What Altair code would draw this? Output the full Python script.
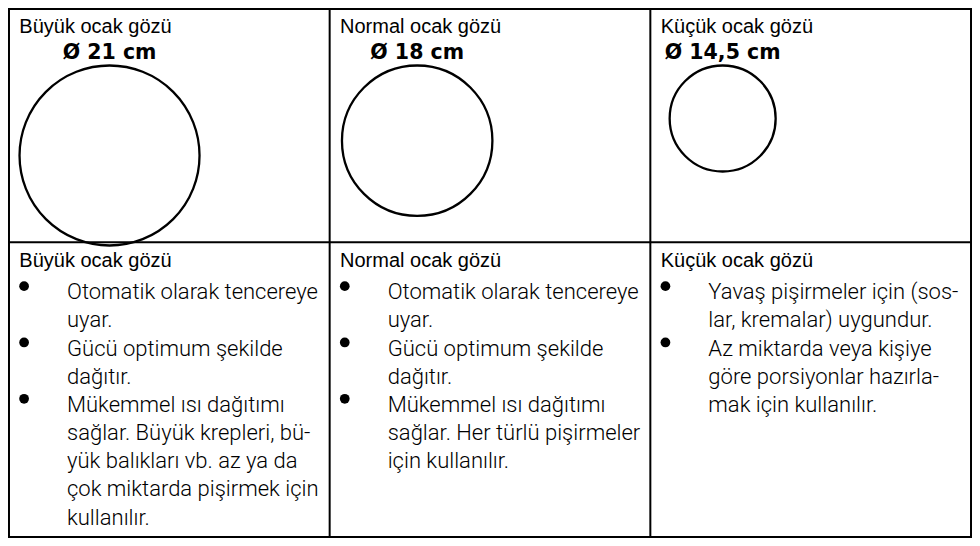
import altair as alt
import pandas as pd

# ---------------- data ----------------
burners = ["Büyük ocak gözü", "Normal ocak gözü", "Küçük ocak gözü"]
diameters_cm = [21, 18, 14.5]
diameter_labels = ["Ø 21 cm", "Ø 18 cm", "Ø 14,5 cm"]

bullets_buyuk = [
    ["Otomatik olarak tencereye", "uyar."],
    ["Gücü optimum şekilde", "dağıtır."],
    ["Mükemmel ısı dağıtımı", "sağlar. Büyük krepleri, bü-",
     "yük balıkları vb. az ya da", "çok miktarda pişirmek için", "kullanılır."],
]
bullets_normal = [
    ["Otomatik olarak tencereye", "uyar."],
    ["Gücü optimum şekilde", "dağıtır."],
    ["Mükemmel ısı dağıtımı", "sağlar. Her türlü pişirmeler", "için kullanılır."],
]
bullets_kucuk = [
    ["Yavaş pişirmeler için (sos-", "lar, kremalar) uygundur."],
    ["Az miktarda veya kişiye", "göre porsiyonlar hazırla-", "mak için kullanılır."],
]
bullet_lists = [bullets_buyuk, bullets_normal, bullets_kucuk]

# ---------------- layout (table units) ----------------
W, H = 964, 530
X0, X1, Y0, Y1 = 2, 977, 2, 544
ROW_SPLIT = 241.5
COL_W = (X1 - X0) / 3
PAD_X = 10.5
HEAD_BASE = 25
DIAM_BASE = 51
CIRCLE_TOP = 60
BODY_HEAD_BASE = 25.5
FIRST_LINE = 58.5
LINE_H = 28.9
BULLET_X = 15.3
BULLET_RISE = 13.5
TEXT_X = 58.8
D_SMALL, D_LARGE = 106, 180  # drawn diameters of smallest / largest burner
SCALE_Y = H / (Y1 - Y0 + 2)

xs = alt.Scale(domain=[X0 - 1, X1 + 1], nice=False, zero=False)
ys = alt.Scale(domain=[Y0 - 1, Y1 + 1], nice=False, zero=False, reverse=True)

def col_left(i):
    return X0 + i * COL_W

# grid lines
segs = []
for yv in [Y0, ROW_SPLIT, Y1]:
    segs.append(dict(x=X0, x2=X1, y=yv, y2=yv))
for i in range(4):
    xv = col_left(i)
    segs.append(dict(x=xv, x2=xv, y=Y0, y2=Y1))
grid_df = pd.DataFrame(segs)

# top cells
d_min, d_max = min(diameters_cm), max(diameters_cm)
top_rows = []
for i, (name, cm, lab) in enumerate(zip(burners, diameters_cm, diameter_labels)):
    frac = (cm - d_min) / (d_max - d_min)
    area = D_SMALL ** 2 + frac * (D_LARGE ** 2 - D_SMALL ** 2)
    r_units = (area ** 0.5) / 2 / SCALE_Y
    cx = col_left(i) + 9.5 + 4.4 * cm
    top_rows.append(dict(name=name, cm=cm, label=lab,
                         hx=col_left(i) + PAD_X, hy=Y0 + HEAD_BASE,
                         cx=cx, cy=CIRCLE_TOP + r_units, ly=Y0 + DIAM_BASE))
top_df = pd.DataFrame(top_rows)

# bottom cells
line_rows, dot_rows, bhead_rows = [], [], []
for i, (name, blist) in enumerate(zip(burners, bullet_lists)):
    bhead_rows.append(dict(name=name, x=col_left(i) + PAD_X, y=ROW_SPLIT + BODY_HEAD_BASE))
    k = 0
    for item in blist:
        for j, txt in enumerate(item):
            yb = ROW_SPLIT + FIRST_LINE + k * LINE_H
            line_rows.append(dict(text=txt, x=col_left(i) + TEXT_X, y=yb))
            if j == 0:
                dot_rows.append(dict(x=col_left(i) + BULLET_X, y=yb - BULLET_RISE))
            k += 1
lines_df = pd.DataFrame(line_rows)
dots_df = pd.DataFrame(dot_rows)
bhead_df = pd.DataFrame(bhead_rows)

# ---------------- chart ----------------
grid = alt.Chart(grid_df).mark_rule(color="black", strokeWidth=2, strokeCap="square").encode(
    x=alt.X("x:Q", scale=xs, axis=None), x2="x2:Q",
    y=alt.Y("y:Q", scale=ys, axis=None), y2="y2:Q")

head_font = dict(font="Liberation Sans", fontSize=20, color="black", align="left", baseline="alphabetic")

top_heads = alt.Chart(top_df).mark_text(**head_font).encode(
    x=alt.X("hx:Q", scale=xs, axis=None), y=alt.Y("hy:Q", scale=ys, axis=None), text="name:N")

diam_text = alt.Chart(top_df).mark_text(font="DejaVu Sans", fontWeight="bold", fontSize=20.5,
                                        color="black", align="center", baseline="alphabetic").encode(
    x=alt.X("cx:Q", scale=xs, axis=None), y=alt.Y("ly:Q", scale=ys, axis=None), text="label:N")

circles = alt.Chart(top_df).mark_point(shape="circle", filled=False, stroke="black",
                                       strokeWidth=2.3, opacity=1).encode(
    x=alt.X("cx:Q", scale=xs, axis=None), y=alt.Y("cy:Q", scale=ys, axis=None),
    size=alt.Size("cm:Q", scale=alt.Scale(domain=[d_min, d_max],
                                          range=[D_SMALL ** 2, D_LARGE ** 2], zero=False),
                  legend=None))

bottom_heads = alt.Chart(bhead_df).mark_text(**head_font).encode(
    x=alt.X("x:Q", scale=xs, axis=None), y=alt.Y("y:Q", scale=ys, axis=None), text="name:N")

body = alt.Chart(lines_df).mark_text(font="Roboto", fontWeight=300, fontSize=22, color="black",
                                     align="left", baseline="alphabetic").encode(
    x=alt.X("x:Q", scale=xs, axis=None), y=alt.Y("y:Q", scale=ys, axis=None), text="text:N")

dots = alt.Chart(dots_df).mark_circle(color="black", size=95, opacity=1).encode(
    x=alt.X("x:Q", scale=xs, axis=None), y=alt.Y("y:Q", scale=ys, axis=None))

chart = alt.layer(grid, circles, top_heads, diam_text, bottom_heads, body, dots).properties(
    width=W, height=H, padding=0, background="white",
    autosize=alt.AutoSizeParams(type="none"),
).configure_view(stroke=None)

chart.save("out.html", embed_options={"renderer": "svg", "actions": False})
